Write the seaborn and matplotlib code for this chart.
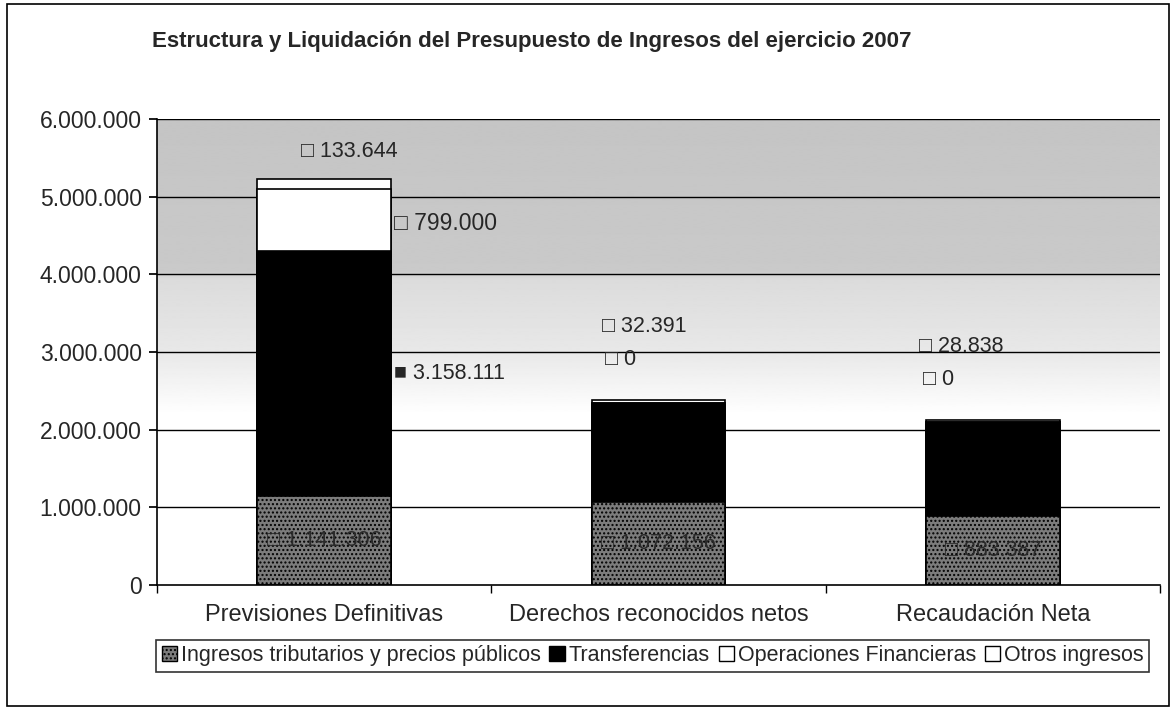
import numpy as np
import pandas as pd
import seaborn as sns
import matplotlib.pyplot as plt
from matplotlib.patches import Patch, Rectangle
from matplotlib.ticker import FuncFormatter, FixedLocator

# datos
categorias = ["Previsiones Definitivas", "Derechos reconocidos netos", "Recaudación Neta"]
series = ["Ingresos tributarios y precios públicos", "Transferencias",
          "Operaciones Financieras", "Otros ingresos"]
ingresos_trib = [1141306, 1072156, 883387]
transferencias = [3158111, 1276000, 1210000]
operaciones_fin = [799000, 0, 0]
otros_ingresos = [133644, 32391, 28838]

titulo = "Estructura y Liquidación del Presupuesto de Ingresos del ejercicio 2007"

def fmt(v):
    return f"{v:,.0f}".replace(",", ".")

sns.set_theme(style="white")
plt.rcParams["font.family"] = ["Liberation Sans", "DejaVu Sans"]

df = pd.DataFrame({"cat": categorias, "ing": ingresos_trib, "tra": transferencias,
                   "ope": operaciones_fin, "otr": otros_ingresos})
df["c1"] = df["ing"]
df["c2"] = df["c1"] + df["tra"]
df["c3"] = df["c2"] + df["ope"]
df["c4"] = df["c3"] + df["otr"]

fig = plt.figure(figsize=(11.76, 7.10), dpi=100)
ax = fig.add_axes([157 / 1176, 1 - 585 / 710, 1003 / 1176, 466 / 710])

# barras apiladas (de arriba hacia abajo)
estilos = [("c4", "white", None), ("c3", "white", None),
           ("c2", "black", None), ("c1", "#7c7c7c", "....")]
for col, color, hatch in estilos:
    sns.barplot(data=df, x="cat", y=col, color=color, width=0.4, edgecolor="black",
                linewidth=1.2, hatch=hatch, saturation=1, ax=ax, zorder=3)

# fondo degradado
yy = np.linspace(0, 6e6, 400)
gris = np.interp(yy, [0, 2.2e6, 3.0e6, 3.95e6, 4.05e6, 6e6],
                 [1.0, 1.0, 0.91, 0.86, 0.79, 0.77])
ax.imshow(gris[:, None], cmap="gray", vmin=0, vmax=1, origin="lower", aspect="auto",
          extent=(-0.5, 2.5, 0, 6e6), zorder=0, interpolation="bilinear")
ax.set_xlim(-0.5, 2.5)
ax.set_ylim(0, 6e6)

for v in range(1, 7):
    ax.axhline(v * 1e6, color="black", lw=1, zorder=1)

ax.set_yticks(np.arange(0, 6e6 + 1, 1e6))
ax.yaxis.set_major_formatter(FuncFormatter(lambda v, p: fmt(v)))
ax.tick_params(axis="y", labelsize=16.5, length=6, pad=5, direction="out", left=True,
               color="black")
ax.tick_params(axis="x", which="major", labelsize=17, length=0, pad=14)
ax.xaxis.set_minor_locator(FixedLocator([-0.5, 0.5, 1.5, 2.5]))
ax.tick_params(axis="x", which="minor", length=6, bottom=True, direction="out", color="black")
ax.set_xlabel("")
ax.set_ylabel("")
for s in ["top", "right"]:
    ax.spines[s].set_visible(False)
for s in ["left", "bottom"]:
    ax.spines[s].set_color("black")
    ax.spines[s].set_linewidth(1.2)
    ax.spines[s].set_zorder(4)

# etiquetas de datos
fs = 15.5
for i in range(3):
    ax.text(i, df["c1"][i] / 2, "□ " + fmt(df["ing"][i]), ha="center", va="center",
            fontsize=fs, color="#2a2a2a", zorder=5)
# primera barra
ax.text(0.21, (df["c1"][0] + df["c2"][0]) / 2, "■ " + fmt(df["tra"][0]),
        ha="left", va="center", fontsize=fs, zorder=5)
ax.text(0.21, (df["c2"][0] + df["c3"][0]) / 2 - 0.04e6, "□ " + fmt(df["ope"][0]),
        ha="left", va="center", fontsize=16.5, zorder=5)
ax.text(-0.07, df["c4"][0] + 0.35e6, "□ " + fmt(df["otr"][0]),
        ha="left", va="center", fontsize=fs, zorder=5)
# barras 2 y 3
for i, dx in [(1, -0.17), (2, -0.22)]:
    ax.text(i + dx, df["c4"][i] + 0.95e6, "□ " + fmt(df["otr"][i]),
            ha="left", va="center", fontsize=fs, zorder=5)
    ax.text(i + dx + 0.01, df["c3"][i] + 0.55e6, "□ " + fmt(df["ope"][i]),
            ha="left", va="center", fontsize=fs, zorder=5)

# titulo
fig.text(0.452, 1 - 42 / 710, titulo, ha="center", va="center", fontsize=16, weight="bold")

# leyenda
handles = [Patch(facecolor="#7c7c7c", edgecolor="black", hatch="...."),
           Patch(facecolor="black", edgecolor="black"),
           Patch(facecolor="white", edgecolor="black"),
           Patch(facecolor="white", edgecolor="black")]
leg = fig.legend(handles, series, loc="lower center", bbox_to_anchor=(0.555, 0.054), ncol=4,
                 frameon=True, fancybox=False, edgecolor="black", fontsize=15.5,
                 handlelength=0.7, handleheight=0.7, handletextpad=0.2, columnspacing=0.4,
                 borderpad=0.25, borderaxespad=0)
leg.get_frame().set_linewidth(1.2)

# marco exterior
fig.patches.append(Rectangle((0.006, 0.006), 0.988, 0.988, transform=fig.transFigure,
                             fill=False, edgecolor="black", lw=1.2))

fig.savefig("out.png", dpi=100)
